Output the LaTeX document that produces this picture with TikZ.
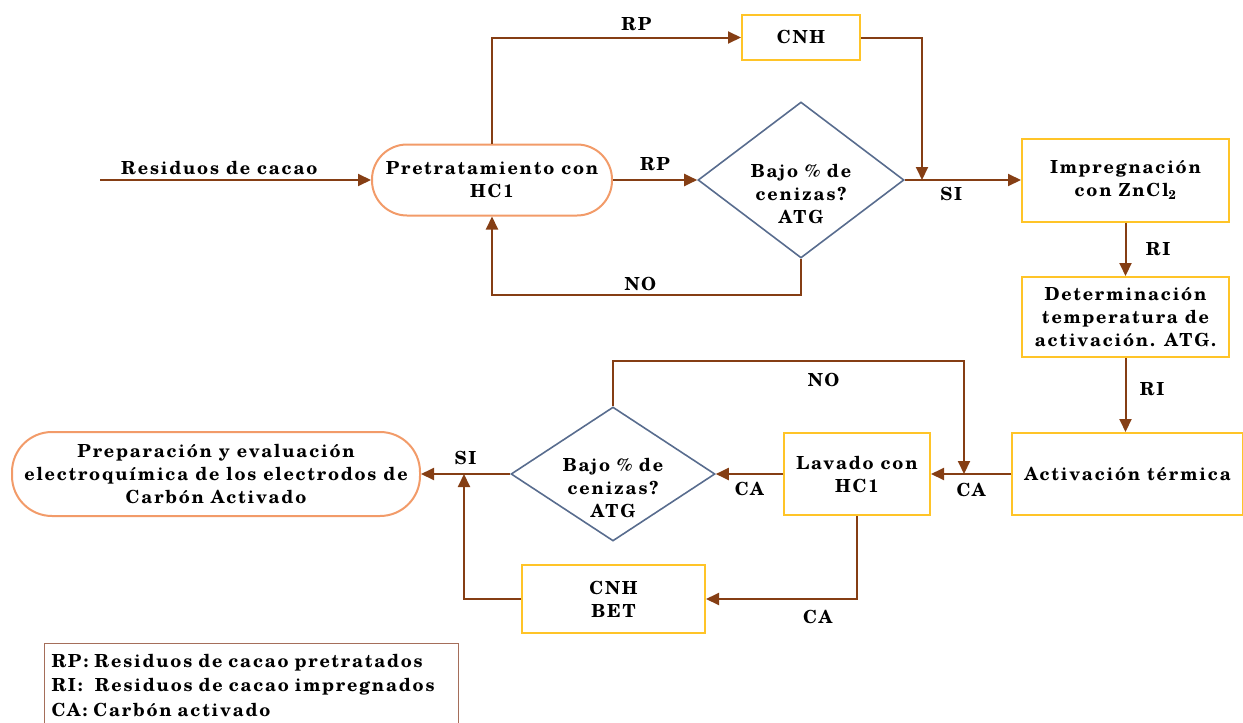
\documentclass[tikz,border=0pt]{standalone}
\usepackage{fontspec}
\setmainfont{TeX Gyre Schola}[LetterSpace=10]
\usetikzlibrary{shapes.geometric,arrows.meta,positioning}
\definecolor{cafe}{RGB}{133,62,20}
\definecolor{naranja}{RGB}{242,155,105}
\definecolor{oro}{RGB}{255,196,40}
\definecolor{azulgris}{RGB}{88,108,142}
\definecolor{marco}{RGB}{165,110,90}

\begin{document}
\begin{tikzpicture}[x=1pt,y=-1pt,
  font=\fontsize{18}{23}\selectfont\bfseries,
  flecha/.style={draw=cafe,line width=2pt,-{Triangle[length=13pt,width=12pt]}},
  caja/.style={draw=oro,line width=2pt,align=center,inner sep=2pt},
  term/.style={draw=naranja,line width=2pt,align=center,rounded corners=#1},
  deci/.style={draw=azulgris,line width=1.6pt,diamond,inner sep=0pt},
  texto/.style={align=center}]
\useasboundingbox (0,0) rectangle (1243,723);

% nodos
\node[term=35pt,minimum width=240pt,minimum height=71pt] (pret) at (492,180) {Pretratamiento con\\HC1};
\node[caja,minimum width=118pt,minimum height=45pt] (cnh) at (801,37.5) {CNH};
\node[deci,minimum width=206pt,minimum height=156pt] (dec1) at (801,180) {};
\node[texto] (dec1t) at (801,194) {Bajo \% de\\cenizas?\\ATG};
\node[caja,minimum width=207pt,minimum height=83pt] (imp) at (1125.5,180) {Impregnación\\con ZnCl\textsubscript{2}};
\node[caja,minimum width=207pt,minimum height=80pt] (det) at (1125.5,317) {Determinación\\temperatura de\\activación. ATG.};
\node[caja,minimum width=231pt,minimum height=82pt] (act) at (1127.5,474) {Activación térmica};
\node[caja,minimum width=146pt,minimum height=82pt] (lav) at (857,474) {Lavado con\\HC1};
\node[deci,minimum width=204pt,minimum height=134pt] (dec2) at (613,474) {};
\node[texto] (dec2t) at (613,488) {Bajo \% de\\cenizas?\\ATG};
\node[term=40pt,minimum width=408pt,minimum height=84pt] (fin) at (216,474) {Preparación y evaluación\\electroquímica de los electrodos de\\Carbón Activado};
\node[caja,minimum width=183pt,minimum height=68pt] (bet) at (613.5,599) {CNH\\BET};
\node[draw=marco,line width=1pt,anchor=north west,align=left,text width=400pt,minimum height=83pt,
  inner xsep=7pt,inner ysep=1pt,font=\fontsize{18}{24.5}\selectfont\bfseries] (leyenda) at (44,643)
  {RP: Residuos de cacao pretratados\\RI:\ \ Residuos de cacao impregnados\\CA: Carbón activado};

\coordinate (ini) at (100,180);
\coordinate (union) at (922,180);
\coordinate (caida) at (964,474);
\coordinate (sube) at (464,474);

% conectores
\draw[flecha] (ini) -- node[above=1pt,pos=0.44]{Residuos de cacao} (pret.west);
\draw[flecha] (pret.north) |- node[above=2pt,pos=0.79]{RP} (cnh.west);
\draw[flecha] (cnh.east) -| (union);
\draw[flecha] (pret.east) -- node[above=5pt]{RP} (dec1.west);
\draw[flecha] (dec1.east) -- node[below=3pt,pos=0.4]{SI} (imp.west);
\draw[flecha] (dec1.south) -- ++(0,36) -| node[above,pos=0.26]{NO} (pret.south);
\draw[flecha] (imp.south) -- node[right=16pt]{RI} (imp.south |- det.north);
\draw[flecha] (det.south) -- node[right=10pt,pos=0.42]{RI} (det.south |- act.north);
\draw[flecha] (act.west) -- node[below=5pt]{CA} (lav.east);
\draw[flecha] (dec2.north) -- ++(0,-45) -| node[below=8pt,pos=0.3]{NO} (caida);
\draw[flecha] (lav.west) -- node[below=4pt]{CA} (dec2.east);
\draw[flecha] (dec2.west) -- node[above=5pt]{SI} (fin.east);
\draw[flecha] (lav.south) |- node[below=7pt,pos=0.63]{CA} (bet.east);
\draw[flecha] (bet.west) -| (sube);
\end{tikzpicture}
\end{document}
